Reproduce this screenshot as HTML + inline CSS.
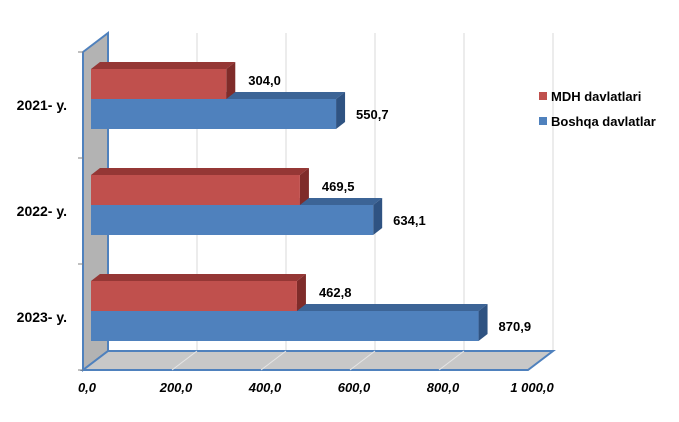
<!DOCTYPE html>
<html><head><meta charset="utf-8"><style>
html,body{margin:0;padding:0;background:#fff;}
svg{display:block;font-family:"Liberation Sans",Arial,sans-serif;}
</style></head><body>
<svg id="chart" width="679" height="422" viewBox="0 0 679 422" xmlns="http://www.w3.org/2000/svg"></svg>
<script>
const categories = ["2021- y.", "2022- y.", "2023- y."];
const mdhValues = [304.0, 469.5, 462.8];
const otherValues = [550.7, 634.1, 870.9];
const xTicks = [0, 200, 400, 600, 800, 1000];
const xTickLabels = ["0,0", "200,0", "400,0", "600,0", "800,0", "1 000,0"];
const seriesNames = ["MDH davlatlari", "Boshqa davlatlar"];

const NS = "http://www.w3.org/2000/svg";
const svg = document.getElementById("chart");
const SC = 0.445, FX0 = 83, BX0 = 108, FY = 370, BY = 351, TOPB = 33, TOPF = 52, BARX0 = 91;
const DX = 9, DY = -7, BH = 30, G0 = 69, GSTEP = 106;
function xf(v){return FX0 + v*SC;}
function xb(v){return BX0 + v*SC;}
function xbar(v){return BARX0 + v*SC;}
function fmt(v){return v.toFixed(1).replace(".", ",");}
function mk(tag, attrs, parent){const e=document.createElementNS(NS,tag);for(const k in attrs)e.setAttribute(k,attrs[k]);(parent||svg).appendChild(e);return e;}

// back gridlines
xTicks.forEach((t,i)=>{
  if(i===0) return;
  const l = mk("line",{x1:xb(t),y1:TOPB,x2:xb(t),y2:BY,stroke:"#d9d9d9","stroke-width":1});
  
  
});
// left wall
const wall = mk("polygon",{points:`${FX0},${TOPF} ${BX0},${TOPB} ${BX0},${BY} ${FX0},${FY}`,fill:"#b3b3b3",stroke:"#4f81bd","stroke-width":2});


// floor
const floor = mk("polygon",{points:`${FX0},${FY} ${BX0},${BY} ${xb(1000)},${BY} ${xf(1000)},${FY}`,fill:"#c8c8c8",stroke:"#4f81bd","stroke-width":2});


xTicks.forEach((t,i)=>{
  if(i===0||i===xTicks.length-1) return;
  const l = mk("line",{x1:xf(t),y1:FY,x2:xb(t),y2:BY,stroke:"#e6e6e6","stroke-width":1});
  
  
});
// y ticks
for(let i=0;i<=categories.length;i++){
  const y = TOPF + i*(FY-TOPF)/categories.length;
  const l = mk("line",{x1:FX0-5,y1:y,x2:FX0,y2:y,stroke:"#808080","stroke-width":1});
  
  
}
// x labels
xTicks.forEach((t,i)=>{
  const tx = mk("text",{x:xf(t)+4,y:392,"text-anchor":"middle","font-size":13,"font-weight":"bold","font-style":"italic",fill:"#000"});
  tx.textContent = xTickLabels[i];
  
  
});
function bar(v, y, front, top, side, name){
  const g = mk("g",{});
  
  
  const x1 = xbar(v);
  mk("polygon",{points:`${BARX0},${y} ${BARX0+DX},${y+DY} ${x1+DX},${y+DY} ${x1},${y}`,fill:top},g);
  mk("polygon",{points:`${x1},${y} ${x1+DX},${y+DY} ${x1+DX},${y+BH+DY} ${x1},${y+BH}`,fill:side},g);
  mk("rect",{x:BARX0,y:y,width:x1-BARX0,height:BH,fill:front},g);
  return x1;
}
categories.forEach((c,i)=>{
  const y = G0 + i*GSTEP;
  const lab = mk("text",{x:67,y:y+41,"text-anchor":"end","font-size":14,"font-weight":"bold",fill:"#000"});
  lab.textContent = c;
  
  
  const bx = bar(otherValues[i], y+BH, "#4f81bd", "#3c6496", "#2f5382", "bar-boshqa");
  const rx = bar(mdhValues[i], y, "#c0504d", "#953735", "#7f2c2a", "bar-mdh");
  const t1 = mk("text",{x:rx+22,y:y+16,"font-size":13,"font-weight":"bold",fill:"#000"});
  t1.textContent = fmt(mdhValues[i]);
  
  
  const t2 = mk("text",{x:bx+20,y:y+BH+20,"font-size":13,"font-weight":"bold",fill:"#000"});
  t2.textContent = fmt(otherValues[i]);
  
  
});
// legend
const cols = ["#c0504d","#4f81bd"];
seriesNames.forEach((n,i)=>{
  const g = mk("g",{});
  
  
  const y = 97 + i*25;
  mk("rect",{x:539,y:y-5,width:8,height:8,fill:cols[i]},g);
  const t = mk("text",{x:551,y:y+4,"font-size":13,"font-weight":"bold",fill:"#000"},g);
  t.textContent = n;
});
</script>
</body></html>
